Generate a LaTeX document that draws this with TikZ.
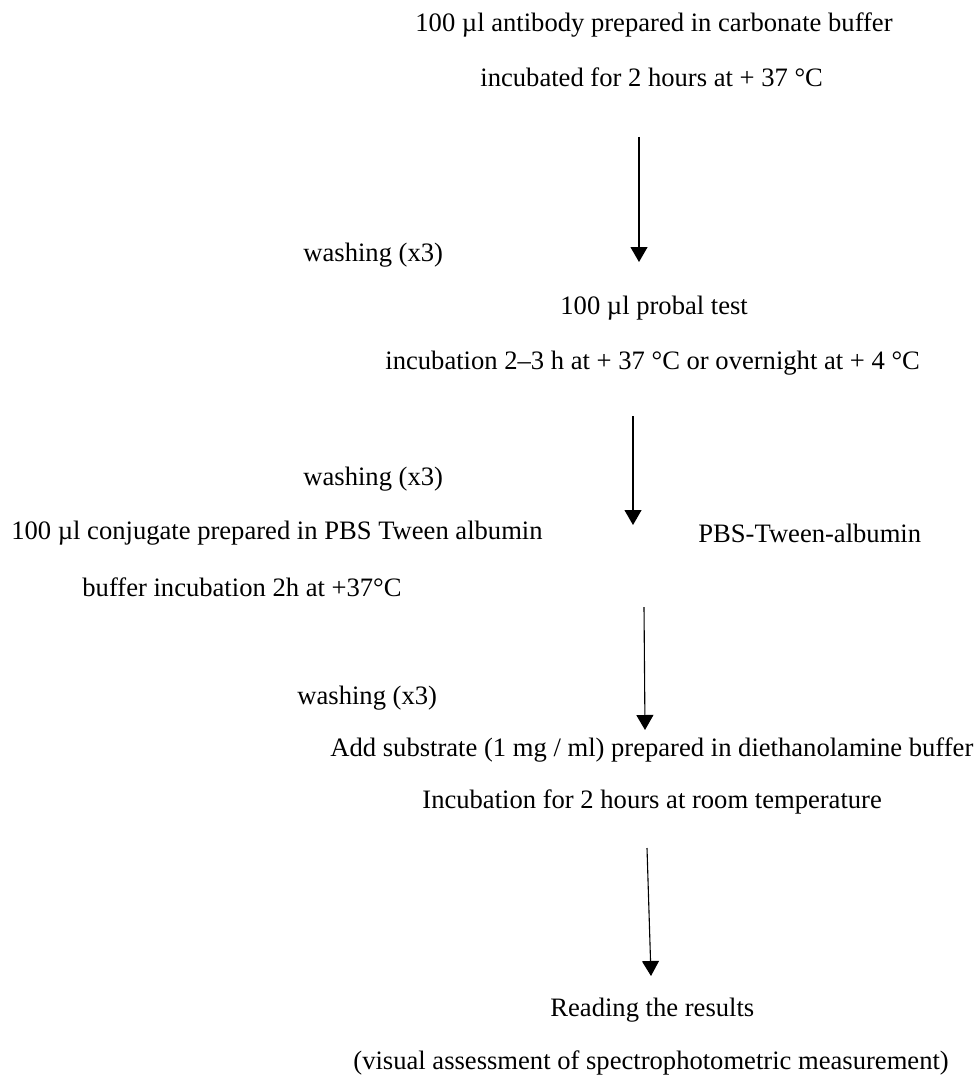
\documentclass[tikz,border=0pt]{standalone}
\usepackage{fontspec}
\setmainfont[Ligatures=NoCommon]{Liberation Serif}
\usetikzlibrary{arrows.meta}

\begin{document}
\begin{tikzpicture}[x=0.5pt,y=-0.5pt]
\tikzstyle{every node}=[inner sep=0pt,font=\fontsize{13.3}{16}\selectfont]
\tikzstyle{step line}=[anchor=west]
\tikzstyle{flow}=[line width=0.55pt,-{Triangle[width=8.5pt,length=7.5pt]}]
\useasboundingbox (0,0) rectangle (976,1075);
\node[step line] (coat) at (415,25) {100 µl antibody prepared in carbonate buffer};
\node[step line] (coatinc) at (480,77) {incubated for 2 hours at + 37 °C};
\node[step line] (wash1) at (303,255) {washing (x3)};
\node[step line] (sample) at (560,308) {100 µl probal test};
\node[step line] (sampleinc) at (385,363) {incubation 2–3 h at + 37 °C or overnight at + 4 °C};
\node[step line] (wash2) at (303,479) {washing (x3)};
\node[anchor=east] (conj) at (543,533) {100 µl conjugate prepared in PBS Tween albumin};
\node[step line] (pbs) at (698,533) {PBS-Tween-albumin};
\node[anchor=east] (conjinc) at (402,587) {buffer incubation 2h at +37°C};
\node[step line] (wash3) at (297,698) {washing (x3)};
\node[step line] (subst) at (330,750) {Add substrate (1 mg / ml) prepared in diethanolamine buffer};
\node[step line] (substinc) at (422,802) {Incubation for 2 hours at room temperature};
\node[step line] (read) at (550,1010) {Reading the results};
\node[step line] (readnote) at (353,1063) {(visual assessment of spectrophotometric measurement)};
\coordinate (a1s) at (639,137); \coordinate (a1e) at (639,262);
\coordinate (a2s) at (633,416); \coordinate (a2e) at (633,525);
\coordinate (a3s) at (644,607); \coordinate (a3e) at (645,730);
\coordinate (a4s) at (647,848); \coordinate (a4e) at (651,976);
\draw[flow] (a1s) -- (a1e);
\draw[flow] (a2s) -- (a2e);
\draw[flow] (a3s) -- (a3e);
\draw[flow] (a4s) -- (a4e);
\end{tikzpicture}
\end{document}
